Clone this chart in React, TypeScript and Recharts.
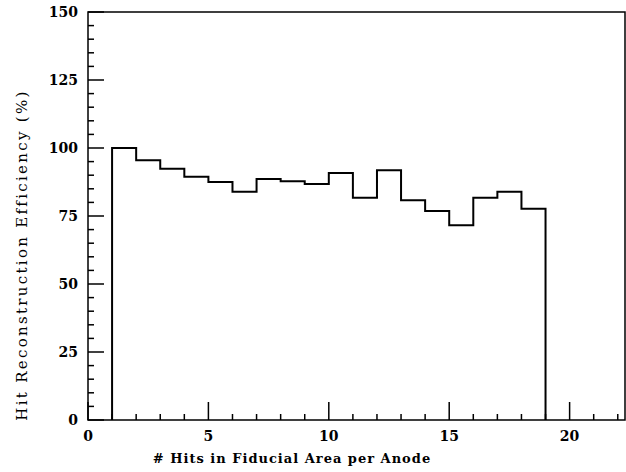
import React from 'react';
import { ComposedChart, Line, XAxis, YAxis, ReferenceArea } from 'recharts';

// Bin lower edges (# hits) and efficiency (%) per bin
const binEdges = [1, 2, 3, 4, 5, 6, 7, 8, 9, 10, 11, 12, 13, 14, 15, 16, 17, 18, 19];
const efficiency = [100, 95.5, 92.4, 89.4, 87.5, 83.9, 88.6, 87.8, 86.8, 90.8, 81.7, 91.8, 80.8, 76.8, 71.6, 81.7, 83.9, 77.7];

const xTicks = [0, 1, 2, 3, 4, 5, 6, 7, 8, 9, 10, 11, 12, 13, 14, 15, 16, 17, 18, 19, 20, 21, 22];
const yTicks = [0, 5, 10, 15, 20, 25, 30, 35, 40, 45, 50, 55, 60, 65, 70, 75, 80, 85, 90, 95, 100, 105, 110, 115, 120, 125, 130, 135, 140, 145, 150];
const xLabeled = [0, 5, 10, 15, 20];
const yLabeled = [0, 25, 50, 75, 100, 125, 150];

const X_MAX = 22.3;
const Y_MAX = 150;

const steps = [
  { x: binEdges[0], y: 0 },
  ...efficiency.map((v, i) => ({ x: binEdges[i], y: v })),
  { x: binEdges[binEdges.length - 1], y: efficiency[efficiency.length - 1] },
  { x: binEdges[binEdges.length - 1], y: 0 },
];

const tickFont = { fontFamily: '"DejaVu Serif", serif', fontWeight: 700, fontSize: 14, fill: '#000' } as const;

const XTick = (props: any) => {
  const { x, y, payload } = props;
  const v = payload.value;
  const major = xLabeled.includes(v);
  return (
    <g>
      <line x1={x} x2={x} y1={y} y2={y - (major ? 18 : 6)} stroke="#000" strokeWidth={1.5} />
      {major && (
        <text x={x} y={y + 21} textAnchor="middle" style={tickFont}>
          {v}
        </text>
      )}
    </g>
  );
};

const YTick = (props: any) => {
  const { x, y, payload } = props;
  const v = payload.value;
  const major = yLabeled.includes(v);
  return (
    <g>
      <line x1={x} x2={x + (major ? 16 : 6)} y1={y} y2={y} stroke="#000" strokeWidth={1.5} />
      {major && (
        <text x={x - 10} y={y + 5} textAnchor="end" style={tickFont}>
          {v}
        </text>
      )}
    </g>
  );
};

export default function App() {
  return (
    <div style={{ position: 'absolute', left: 0, top: 0, width: 626, height: 472, background: '#fff' }}>
      <ComposedChart width={626} height={472} data={steps} margin={{ top: 12, right: 1, left: 0, bottom: 0 }}>
        <XAxis
          dataKey="x"
          type="number"
          domain={[0, X_MAX]}
          ticks={xTicks}
          interval={0}
          height={52}
          tickSize={0}
          tickMargin={0}
          tickLine={false}
          axisLine={false}
          tick={<XTick />}
          allowDataOverflow
        />
        <YAxis
          type="number"
          domain={[0, Y_MAX]}
          ticks={yTicks}
          interval={0}
          width={88}
          tickSize={0}
          tickMargin={0}
          tickLine={false}
          axisLine={false}
          tick={<YTick />}
          allowDataOverflow
        />
        <ReferenceArea x1={0} x2={X_MAX} y1={0} y2={Y_MAX} fill="none" fillOpacity={0} stroke="#000" strokeWidth={1.5} />
        <Line
          dataKey="y"
          type="stepAfter"
          stroke="#000"
          strokeWidth={2}
          dot={false}
          activeDot={false}
          isAnimationActive={false}
        />
      </ComposedChart>
      <div
        style={{
          position: 'absolute',
          left: 292,
          top: 458,
          transform: 'translate(-50%, -50%)',
          whiteSpace: 'nowrap',
          fontFamily: '"DejaVu Serif", serif',
          fontWeight: 700,
          fontSize: 13,
          letterSpacing: 1,
          color: '#000',
        }}
      >
        # Hits in Fiducial Area per Anode
      </div>
      <div
        style={{
          position: 'absolute',
          left: 22,
          top: 255,
          transform: 'translate(-50%, -50%) rotate(-90deg)',
          whiteSpace: 'nowrap',
          fontFamily: '"DejaVu Serif", serif',
          fontSize: 15,
          letterSpacing: 2.3,
          color: '#000',
        }}
      >
        Hit Reconstruction Efficiency (%)
      </div>
    </div>
  );
}
